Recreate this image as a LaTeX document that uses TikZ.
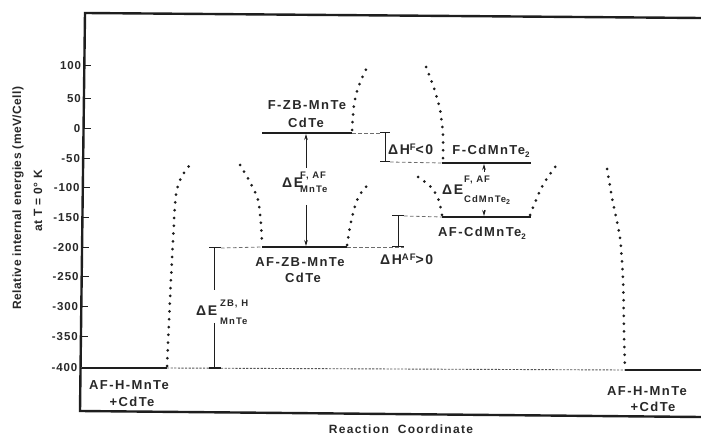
\documentclass[tikz,border=0pt]{standalone}
\usepackage{fontspec}
\setmainfont[LetterSpace=11]{Liberation Sans}
\newfontfamily\tickfont[LetterSpace=8]{Liberation Sans}
\newfontfamily\axfont[LetterSpace=4]{Liberation Sans}
\usetikzlibrary{arrows.meta}
\definecolor{ink}{RGB}{30,30,30}
\definecolor{txt}{RGB}{40,40,40}
\begin{document}
\begin{tikzpicture}[x=1pt,y=-1pt,
  every node/.style={inner sep=0pt, text=txt},
  lvl/.style={font=\bfseries\fontsize{13}{14}\selectfont, anchor=base},
  big/.style={font=\bfseries\fontsize{14}{15}\selectfont, anchor=base west},
  scr/.style={font=\bfseries\fontsize{9.5}{10}\selectfont, anchor=base west},
  level/.style={draw=ink, line width=2.6pt},
  dotc/.style={draw=ink, line width=3pt, line cap=round, dash pattern=on 0pt off 7.8pt},
  guide/.style={draw=ink!65, line width=0.8pt, dash pattern=on 3.5pt off 2.5pt},
  fineline/.style={draw=ink!75, line width=0.9pt, dash pattern=on 2.2pt off 1.4pt},
  bar/.style={draw=ink, line width=1pt},
  arr/.style={bar, -{Stealth[length=6pt,width=3.6pt]}},
]
\useasboundingbox (0,0) rectangle (701,443);

% frame
\coordinate (TL) at (85,13); \coordinate (TR) at (701,18);
\coordinate (BL) at (80,411); \coordinate (BR) at (701,417);
\draw[ink, line width=2.4pt] (TR) -- (TL) -- (BL) -- (BR);

% ticks
\foreach \v/\y in {100/66,50/99,0/129,-50/159,-100/188,-150/218,-200/248,-250/277,-300/307,-350/337,-400/368}{
  \coordinate (k\v) at ({85-0.0126*(\y-13)},\y);
  \draw[bar] (k\v) -- ++(7,0);
  \node[anchor=east, font=\tickfont\bfseries\fontsize{11.5}{12}\selectfont] (t\v) at ([xshift=-3pt]k\v) {\v};
}

% axis labels
\node[rotate=90, font=\axfont\bfseries\fontsize{12}{14}\selectfont] (ylab) at (18,198) {Relative internal energies (meV/Cell)};
\node[rotate=90, font=\axfont\bfseries\fontsize{12}{14}\selectfont] (ylab2) at (38,201) {at T = 0° K};
\node[font=\bfseries\fontsize{12}{14}\selectfont, anchor=base] (rc) at (401,433) {Reaction\hspace{9pt}Coordinate};

% level coordinates
\coordinate (hL1) at (82,368); \coordinate (hL2) at (167,368);
\coordinate (hR1) at (625,370); \coordinate (hR2) at (701,370);
\coordinate (fz1) at (262,133); \coordinate (fz2) at (352,133);
\coordinate (az1) at (262,247); \coordinate (az2) at (347,247);
\coordinate (fc1) at (442,163); \coordinate (fc2) at (531,163);
\coordinate (ac1) at (442,217); \coordinate (ac2) at (531,217);

% baseline
\draw[fineline] (hL2) -- (hR1);

% levels
\draw[level] (hL1) -- (hL2);
\draw[level] (hR1) -- (hR2);
\draw[level] (fz1) -- (fz2);
\draw[level] (az1) -- (az2);
\draw[level] (fc1) -- (fc2);
\draw[level] (ac1) -- (ac2);

% dotted curves
\draw[dotc] plot[smooth] coordinates {(167,366) (170,300) (173,240) (176,195) (182,176) (193,161)};
\draw[dotc] plot[smooth] coordinates {(240,165) (250,182) (258,200) (261,225) (262,245)};
\draw[dotc] plot[smooth] coordinates {(347,245) (351,222) (356,203) (363,190) (372,182)};
\draw[dotc] plot[smooth] coordinates {(352,130) (354,105) (358,88) (367,67)};
\draw[dotc] plot[smooth] coordinates {(426,67) (434,88) (440,110) (443,135) (443,161)};
\draw[dotc] plot[smooth] coordinates {(418,177) (430,186) (438,198) (442,215)};
\draw[dotc] plot[smooth] coordinates {(530,215) (536,200) (544,183) (558,163)};
\draw[dotc] plot[smooth] coordinates {(607,169) (613,203) (620,238) (623,280) (624,330) (625,368)};

% Delta H^F bracket
\coordinate (hfT1) at (380,133); \coordinate (hfT2) at (390,133);
\coordinate (hfB1) at (380,162); \coordinate (hfB2) at (390,162);
\coordinate (hfT) at (385,133); \coordinate (hfB) at (385,162);
\draw[guide] (fz2) -- (hfT1);
\draw[guide] (hfB2) -- (fc1);
\draw[bar] (hfT) -- (hfB); \draw[bar] (hfT1) -- (hfT2); \draw[bar] (hfB1) -- (hfB2);
\node[big] (dHf) at (388,155) {ΔH\raisebox{4.5pt}{\fontsize{9.5}{10}\selectfont F}<0};

% Delta H^AF bracket
\coordinate (haT1) at (392,216); \coordinate (haT2) at (404,216);
\coordinate (haB1) at (392,247); \coordinate (haB2) at (404,247);
\coordinate (haT) at (398,216); \coordinate (haB) at (398,247);
\draw[guide] (az2) -- (haB2);
\draw[guide] (haT2) -- (ac1);
\draw[bar] (haT) -- (haB); \draw[bar] (haT1) -- (haT2); \draw[bar] (haB1) -- (haB2);
\node[big] (dHa) at (380,265) {ΔH\raisebox{4.5pt}{\fontsize{9.5}{10}\selectfont AF}>0};

% Delta E^{ZB,H} bracket
\coordinate (zbT1) at (209,248); \coordinate (zbT2) at (221,248);
\coordinate (zbB1) at (209,368); \coordinate (zbB2) at (221,368);
\coordinate (zbT) at (214,248); \coordinate (zbB) at (214,368);
\coordinate (zbM1) at (214,290); \coordinate (zbM2) at (214,323);
\draw[guide] (zbT2) -- (az1);
\draw[bar] (zbT) -- (zbM1); \draw[bar] (zbM2) -- (zbB);
\draw[bar] (zbT1) -- (zbT2); \draw[draw=ink, line width=2pt] (zbB1) -- (zbB2);
\node[big] (dEz) at (196,316) {ΔE};
\node[scr] (dEzS) at (220,307) {ZB, H};
\node[scr] (dEzB) at (220,325) {MnTe};

% Delta E^{F,AF}_{MnTe}
\coordinate (mT) at (306,134); \coordinate (mU) at (306,168);
\coordinate (mD) at (306,205); \coordinate (mB) at (306,246);
\draw[arr] (mU) -- (mT);
\draw[arr] (mD) -- (mB);
\node[big] (dEm) at (282,188) {ΔE};
\node[scr] (dEmS) at (300,179) {F, AF};
\node[scr] (dEmB) at (300,193) {MnTe};

% Delta E^{F,AF}_{CdMnTe2}
\coordinate (cT) at (484,164); \coordinate (cU) at (484,172);
\coordinate (cD) at (484,210); \coordinate (cB) at (484,216);
\draw[arr] (cU) -- (cT);
\draw[arr] (cD) -- (cB);
\node[big] (dEc) at (442,195) {ΔE};
\node[scr] (dEcS) at (464,183) {F, AF};
\node[scr] (dEcB) at (464,203) {CdMnTe\raisebox{-2pt}{\fontsize{7}{7}\selectfont 2}};

% level labels
\node[lvl] (lfz1) at (307,110) {F-ZB-MnTe};
\node[lvl] (lfz2) at (306,128) {CdTe};
\node[lvl] (laz1) at (300,267) {AF-ZB-MnTe};
\node[lvl] (laz2) at (303,283) {CdTe};
\node[lvl] (lfc) at (491,155) {F-CdMnTe\raisebox{-2.5pt}{\fontsize{8}{8}\selectfont 2}};
\node[lvl] (lac) at (482,237) {AF-CdMnTe\raisebox{-2.5pt}{\fontsize{8}{8}\selectfont 2}};
\node[lvl] (lhl1) at (129,389) {AF-H-MnTe};
\node[lvl] (lhl2) at (132,406) {+CdTe};
\node[lvl] (lhr1) at (647,395) {AF-H-MnTe};
\node[lvl] (lhr2) at (653,411) {+CdTe};
\end{tikzpicture}
\end{document}
